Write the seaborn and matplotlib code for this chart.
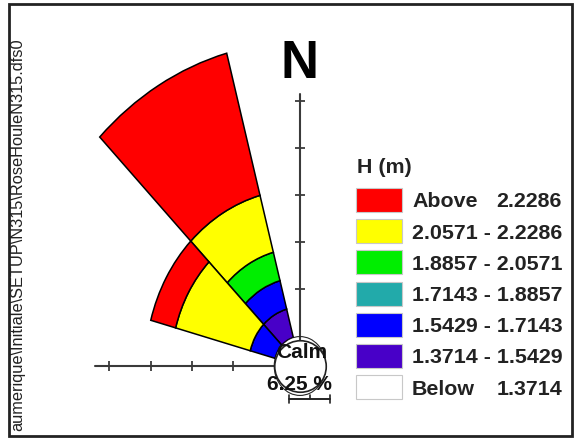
import numpy as np
import matplotlib
matplotlib.use("Agg")
import matplotlib.pyplot as plt
from matplotlib.patches import Rectangle
import seaborn as sns

# ---- data ---------------------------------------------------------------
# Significant wave height classes H (m), lower bounds of the coloured bins
class_bounds = [1.3714, 1.5429, 1.7143, 1.8857, 2.0571, 2.2286]
# one colour per class, from "Below" up to "Above"
class_colors = ["#ffffff", "#4800c8", "#0000ff", "#22aaaa", "#00ee00", "#ffff00", "#ff0000"]

# Direction sectors (deg, nautical convention) and frequency (%) per class
sector_dirs = [330, 300]
sector_width_deg = 30
freq_330 = [0.0, 6.25, 6.25, 0.0, 6.25, 12.5, 31.25]
freq_300 = [0.0, 0.0, 6.25, 0.0, 0.0, 18.75, 6.25]
sector_freqs = [freq_330, freq_300]

calm_pct = 6.25
north_ticks = [10, 20, 30, 40, 50]
west_ticks = [10, 20, 30, 40]
north_axis_len = 51.5
west_axis_len = 43.5

title_text = "H (m)"
file_label = "aumerique\\Initiale\\SETUP\\N315\\RoseHouleN315.dfs0"

# ---- figure -------------------------------------------------------------
sns.set_style("white")
plt.rcParams["font.family"] = ["Liberation Sans", "DejaVu Sans"]

W, H = 574, 439
fig = plt.figure(figsize=(W / 100, H / 100), dpi=100)
fig.patch.set_facecolor("white")

# rose centre and pixel size of 10 % along x and y
cx, cy = 300, 367
px_x, px_y = 41.2, 47.1
R_total = 70.0
hw = R_total / 10 * px_x
hh = R_total / 10 * px_y

ax = fig.add_axes([(cx - hw) / W, (H - cy - hh) / H, 2 * hw / W, 2 * hh / H],
                  projection="polar")
ax.set_aspect("auto")
ax.set_theta_zero_location("N")
ax.set_theta_direction(-1)
ax.set_ylim(0, R_total - calm_pct)
ax.set_rorigin(-calm_pct)
ax.grid(False)
ax.set_xticks([])
ax.set_yticks([])
ax.spines["polar"].set_visible(False)
ax.patch.set_alpha(0)

# stacked sectors
for d, freqs in zip(sector_dirs, sector_freqs):
    bottom = 0.0
    for f, col in zip(freqs, class_colors):
        if f > 0:
            ax.bar(np.deg2rad(d), f, width=np.deg2rad(sector_width_deg), bottom=bottom,
                   color=col, edgecolor="black", linewidth=1.1, align="center", zorder=3)
        bottom += f

# north and west axes with ring ticks
axis_col = "#3a3a3a"
ax.plot([0, 0], [-calm_pct, north_axis_len], color=axis_col, lw=1.5, clip_on=False, zorder=2)
ax.plot([np.deg2rad(270)] * 2, [-calm_pct, west_axis_len], color=axis_col, lw=1.5,
        clip_on=False, zorder=2)
ax.plot([0] * len(north_ticks), north_ticks, ls="none", marker="_", ms=7, mew=1.3,
        color=axis_col, clip_on=False, zorder=2)
ax.plot([np.deg2rad(270)] * len(west_ticks), west_ticks, ls="none", marker="|", ms=7,
        mew=1.3, color=axis_col, clip_on=False, zorder=2)

# calm circle
calm_diam_pt = 2 * calm_pct / 10 * px_x * 72 / 100
ax.scatter([0], [-calm_pct], s=calm_diam_pt ** 2, facecolor="white", edgecolor="#222222",
           linewidths=1.2, zorder=6, clip_on=False)

# ---- annotations layer (pixel coordinates) -----------------------------
deco = fig.add_axes([0, 0, 1, 1])
deco.set_xlim(0, W)
deco.set_ylim(H, 0)
deco.axis("off")
deco.patch.set_alpha(0)

# outer frame
deco.add_patch(Rectangle((9, 5), 563, 432, fill=False, edgecolor="#222222", lw=2))

# file name along the left edge
deco.text(18, 38, file_label, rotation=90, rotation_mode="anchor", ha="right", va="center",
          fontsize=11.8, color="#222222", clip_on=True,
          clip_box=None).set_clip_path(Rectangle((9, 5), 563, 432, transform=deco.transData))

# north label
deco.text(299, 64, "N", ha="center", va="center", fontsize=38, fontweight="bold", color="black")

# calm labels
deco.text(302, 353, "Calm", ha="center", va="center", fontsize=15, fontweight="bold",
          color="#111111", zorder=8)
deco.text(299, 385, f"{calm_pct:.2f} %", ha="center", va="center", fontsize=15,
          fontweight="bold", color="#111111", zorder=8)

# scale bar (length of one ring step)
sb_y, sb_x0 = 400, 289
sb_x1 = sb_x0 + px_x
deco.plot([sb_x0, sb_x1], [sb_y, sb_y], color="#222222", lw=1.4)
for xx in (sb_x0, sb_x1):
    deco.plot([xx, xx], [sb_y - 4, sb_y + 4], color="#222222", lw=1.2)
deco.plot([(sb_x0 + sb_x1) / 2] * 2, [sb_y - 4, sb_y], color="#222222", lw=1.2)

# legend
leg_x0, leg_w, leg_h = 356, 46, 24
row0, row_step = 201, 31.2
text_x, num_right = 412, 562
deco.text(357, 168, title_text, ha="left", va="center", fontsize=15.4, fontweight="bold",
          color="#222222")
labels_top_down = []
labels_top_down.append(("Above", f"{class_bounds[-1]:.4f}"))
for lo, hi in zip(class_bounds[-2::-1], class_bounds[:0:-1]):
    labels_top_down.append((f"{lo:.4f} - {hi:.4f}", None))
labels_top_down.append(("Below", f"{class_bounds[0]:.4f}"))
colors_top_down = class_colors[::-1]
for i, ((lab, num), col) in enumerate(zip(labels_top_down, colors_top_down)):
    yc = row0 + i * row_step
    deco.add_patch(Rectangle((leg_x0, yc - leg_h / 2), leg_w, leg_h, facecolor=col,
                             edgecolor="#c8c8c8", lw=0.8))
    deco.text(text_x, yc + 1, lab, ha="left", va="center", fontsize=15.4, fontweight="bold",
              color="#222222")
    if num is not None:
        deco.text(num_right, yc + 1, num, ha="right", va="center", fontsize=15.4,
                  fontweight="bold", color="#222222")

fig.savefig("out.png", dpi=100)
